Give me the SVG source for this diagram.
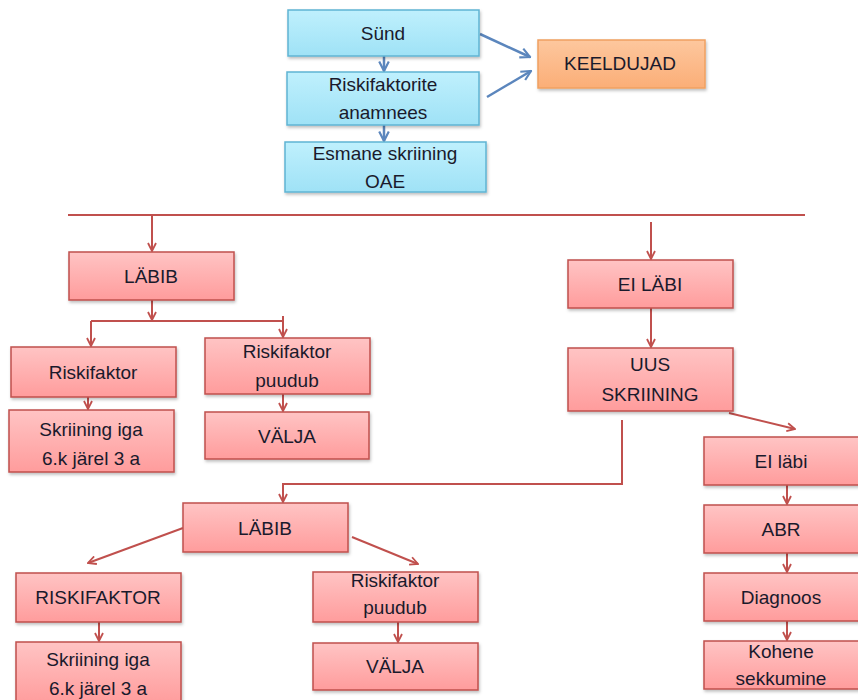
<svg xmlns="http://www.w3.org/2000/svg" width="858" height="700" viewBox="0 0 858 700">
<defs>
<linearGradient id="gb" x1="0" y1="0" x2="0" y2="1"><stop offset="0" stop-color="#bff0fd"/><stop offset="1" stop-color="#9fe2f6"/></linearGradient>
<linearGradient id="go" x1="0" y1="0" x2="0" y2="1"><stop offset="0" stop-color="#fdc79e"/><stop offset="1" stop-color="#fbae77"/></linearGradient>
<linearGradient id="gr" x1="0" y1="0" x2="0" y2="1"><stop offset="0" stop-color="#ffc4c4"/><stop offset="1" stop-color="#ff9c9c"/></linearGradient>
<filter id="sh" x="-10%" y="-10%" width="120%" height="130%"><feDropShadow dx="1" dy="2" stdDeviation="1.5" flood-color="#000" flood-opacity="0.25"/></filter>
<marker id="ar" viewBox="0 0 10 10" refX="9" refY="5" markerWidth="10" markerHeight="10" markerUnits="userSpaceOnUse" orient="auto"><path d="M1,1 L9,5 L1,9" fill="none" stroke="#c0504d" stroke-width="1.8"/></marker>
<marker id="ab" viewBox="0 0 10 10" refX="9" refY="5" markerWidth="12" markerHeight="12" markerUnits="userSpaceOnUse" orient="auto"><path d="M1,1 L9,5 L1,9" fill="none" stroke="#5b86bd" stroke-width="1.8"/></marker>
</defs>
<style>
.b{fill:url(#gb);stroke:#5fb4d3;stroke-width:1.5;filter:url(#sh)}
.o{fill:url(#go);stroke:#f0a060;stroke-width:1.5;filter:url(#sh)}
.r{fill:url(#gr);stroke:#c0504d;stroke-width:1.5;filter:url(#sh)}
text{font-family:"Liberation Sans",Arial,sans-serif;font-size:19px;fill:#1a1a2c;text-anchor:middle}
.cr{fill:none;stroke:#c0504d;stroke-width:2}
.cb{fill:none;stroke:#5b86bd;stroke-width:2.5}
</style>
<g id="connectors">
<line class="cb" x1="384" y1="56" x2="384" y2="71" marker-end="url(#ab)"/>
<line class="cb" x1="384" y1="125" x2="384" y2="141" marker-end="url(#ab)"/>
<line class="cb" x1="480" y1="34" x2="530" y2="57" marker-end="url(#ab)"/>
<line class="cb" x1="487" y1="97" x2="531" y2="71" marker-end="url(#ab)"/>
<line class="cr" x1="68" y1="215" x2="805" y2="215"/>
<line class="cr" x1="152" y1="215" x2="152" y2="251" marker-end="url(#ar)"/>
<line class="cr" x1="152" y1="300" x2="152" y2="320" marker-end="url(#ar)"/>
<line class="cr" x1="91" y1="321" x2="283" y2="321"/>
<line class="cr" x1="91" y1="321" x2="91" y2="346" marker-end="url(#ar)"/>
<line class="cr" x1="283" y1="316" x2="283" y2="337" marker-end="url(#ar)"/>
<line class="cr" x1="88" y1="397" x2="88" y2="409" marker-end="url(#ar)"/>
<line class="cr" x1="283" y1="394" x2="283" y2="411" marker-end="url(#ar)"/>
<line class="cr" x1="651" y1="222" x2="651" y2="259" marker-end="url(#ar)"/>
<line class="cr" x1="651" y1="308" x2="651" y2="347" marker-end="url(#ar)"/>
<line class="cr" x1="729" y1="413" x2="795" y2="429" marker-end="url(#ar)"/>
<polyline class="cr" points="622,420 622,484 283,484 283,502" marker-end="url(#ar)"/>
<line class="cr" x1="183" y1="528" x2="88" y2="563" marker-end="url(#ar)"/>
<line class="cr" x1="352" y1="537" x2="418" y2="564" marker-end="url(#ar)"/>
<line class="cr" x1="99" y1="622" x2="99" y2="641" marker-end="url(#ar)"/>
<line class="cr" x1="398" y1="622" x2="398" y2="642" marker-end="url(#ar)"/>
<line class="cr" x1="787" y1="485" x2="787" y2="504" marker-end="url(#ar)"/>
<line class="cr" x1="787" y1="553" x2="787" y2="572" marker-end="url(#ar)"/>
<line class="cr" x1="787" y1="621" x2="787" y2="640" marker-end="url(#ar)"/>
</g>
<g id="sund"><rect class="b" x="288" y="10" width="191" height="46"/><text x="383" y="40">Sünd</text></g>
<g id="riskifaktorite"><rect class="b" x="287" y="72" width="192" height="53"/><text x="383" y="91">Riskifaktorite</text><text x="383" y="119">anamnees</text></g>
<g id="esmane"><rect class="b" x="285" y="142" width="201" height="50"/><text x="385" y="160">Esmane skriining</text><text x="385" y="188">OAE</text></g>
<g id="keeldujad"><rect class="o" x="538" y="40" width="167" height="48"/><text x="620" y="70">KEELDUJAD</text></g>
<g id="labib1"><rect class="r" x="69" y="252" width="165" height="48"/><text x="151" y="283">LÄBIB</text></g>
<g id="riskifaktor1"><rect class="r" x="11" y="347" width="165" height="50"/><text x="93" y="379">Riskifaktor</text></g>
<g id="puudub1"><rect class="r" x="205" y="338" width="165" height="56"/><text x="287" y="358">Riskifaktor</text><text x="287" y="387">puudub</text></g>
<g id="skriining1"><rect class="r" x="9" y="410" width="165" height="62"/><text x="91" y="436">Skriining iga</text><text x="91" y="465">6.k järel 3 a</text></g>
<g id="valja1"><rect class="r" x="205" y="412" width="164" height="47"/><text x="287" y="443">VÄLJA</text></g>
<g id="eilabi1"><rect class="r" x="568" y="260" width="165" height="48"/><text x="650" y="291">EI LÄBI</text></g>
<g id="uus"><rect class="r" x="568" y="348" width="165" height="63"/><text x="650" y="371">UUS</text><text x="650" y="401">SKRIINING</text></g>
<g id="eilabi2"><rect class="r" x="704" y="437" width="160" height="48"/><text x="781" y="468">EI läbi</text></g>
<g id="abr"><rect class="r" x="704" y="505" width="160" height="48"/><text x="781" y="536">ABR</text></g>
<g id="diagnoos"><rect class="r" x="704" y="573" width="160" height="48"/><text x="781" y="604">Diagnoos</text></g>
<g id="kohene"><rect class="r" x="704" y="641" width="160" height="48"/><text x="781" y="658">Kohene</text><text x="781" y="685">sekkumine</text></g>
<g id="labib2"><rect class="r" x="183" y="503" width="165" height="49"/><text x="265" y="535">LÄBIB</text></g>
<g id="riskifaktor2"><rect class="r" x="16" y="573" width="165" height="49"/><text x="98" y="604">RISKIFAKTOR</text></g>
<g id="puudub2"><rect class="r" x="313" y="572" width="165" height="50"/><text x="395" y="587">Riskifaktor</text><text x="395" y="614">puudub</text></g>
<g id="skriining2"><rect class="r" x="16" y="642" width="165" height="62"/><text x="98" y="666">Skriining iga</text><text x="98" y="695">6.k järel 3 a</text></g>
<g id="valja2"><rect class="r" x="313" y="643" width="165" height="47"/><text x="395" y="673">VÄLJA</text></g>
</svg>
